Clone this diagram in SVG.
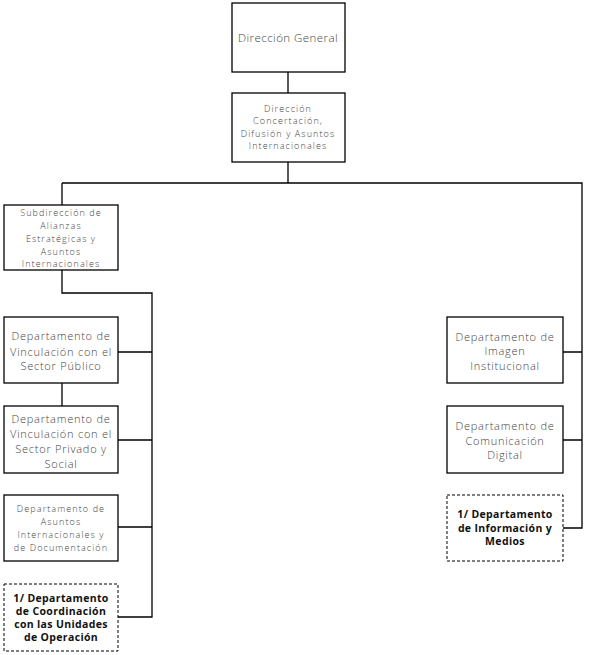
<svg xmlns="http://www.w3.org/2000/svg" width="589" height="655" viewBox="0 0 589 655">
<style>
.box{fill:#fff;stroke:#000;stroke-width:1.3}
.dash{fill:#fff;stroke:#000;stroke-width:1;stroke-dasharray:3,2}
.t{font-family:"Open Sans","Liberation Sans",sans-serif;fill:#444;text-anchor:middle;font-weight:300}
.s{font-size:9px;letter-spacing:1.1px}
.d{font-size:11px;letter-spacing:0.75px}
.b{font-family:"Open Sans","Liberation Sans",sans-serif;fill:#111;text-anchor:middle;font-weight:700;font-size:10.5px;letter-spacing:0.35px}
.c{fill:none;stroke:#000;stroke-width:1.3}
</style>
<rect width="589" height="655" fill="#fff"/>
<g id="connectors">
<path class="c" d="M288 72V93M288 162V183M62 183H582V528H562M62 183V205M62 270V293H152V617H118M118 352H152M118 440H152M118 527H152M62 383V406M563 352H582M563 440H582"/>
</g>
<g id="n1"><rect class="box" x="232" y="3" width="113" height="69"/>
<text class="t" x="288" y="42" font-size="11.5" letter-spacing="0.45">Dirección General</text></g>
<g id="n2"><rect class="box" x="232" y="93" width="113" height="69"/>
<text class="t s"><tspan x="288" y="111.5">Dirección</tspan><tspan x="288" y="124">Concertación,</tspan><tspan x="288" y="136.5">Difusión  y Asuntos</tspan><tspan x="288" y="149">Internacionales</tspan></text></g>
<g id="n3"><rect class="box" x="4" y="205" width="114" height="65"/>
<text class="t s"><tspan x="61" y="216">Subdirección  de</tspan><tspan x="61" y="229">Alianzas</tspan><tspan x="61" y="242">Estratégicas  y</tspan><tspan x="61" y="255">Asuntos</tspan><tspan x="61" y="267">Internacionales</tspan></text></g>
<g id="n4"><rect class="box" x="4" y="317" width="114" height="66"/>
<text class="t d"><tspan x="61" y="340">Departamento de</tspan><tspan x="61" y="355.5">Vinculación con el</tspan><tspan x="61" y="370">Sector Público</tspan></text></g>
<g id="n5"><rect class="box" x="4" y="406" width="114" height="67"/>
<text class="t d"><tspan x="61" y="423">Departamento de</tspan><tspan x="61" y="438">Vinculación con el</tspan><tspan x="61" y="453">Sector Privado y</tspan><tspan x="61" y="468">Social</tspan></text></g>
<g id="n6"><rect class="box" x="4" y="495" width="114" height="66"/>
<text class="t s"><tspan x="61" y="512">Departamento  de</tspan><tspan x="61" y="525">Asuntos</tspan><tspan x="61" y="538">Internacionales  y</tspan><tspan x="61" y="551">de Documentación</tspan></text></g>
<g id="n7"><rect class="dash" x="4" y="584" width="114" height="67"/>
<text class="b"><tspan x="61" y="601.5">1/ Departamento</tspan><tspan x="61" y="614.5">de Coordinación</tspan><tspan x="61" y="627.5">con las Unidades</tspan><tspan x="61" y="640.5">de Operación</tspan></text></g>
<g id="n8"><rect class="box" x="447" y="317" width="116" height="66"/>
<text class="t d"><tspan x="505" y="341">Departamento de</tspan><tspan x="505" y="355">Imagen</tspan><tspan x="505" y="370">Institucional</tspan></text></g>
<g id="n9"><rect class="box" x="447" y="406" width="116" height="67"/>
<text class="t d"><tspan x="505" y="430">Departamento de</tspan><tspan x="505" y="444.5">Comunicación</tspan><tspan x="505" y="459">Digital</tspan></text></g>
<g id="n10"><rect class="dash" x="447" y="495" width="116" height="66"/>
<text class="b"><tspan x="505" y="518">1/ Departamento</tspan><tspan x="505" y="531.5">de Información y</tspan><tspan x="505" y="545">Medios</tspan></text></g>
</svg>
